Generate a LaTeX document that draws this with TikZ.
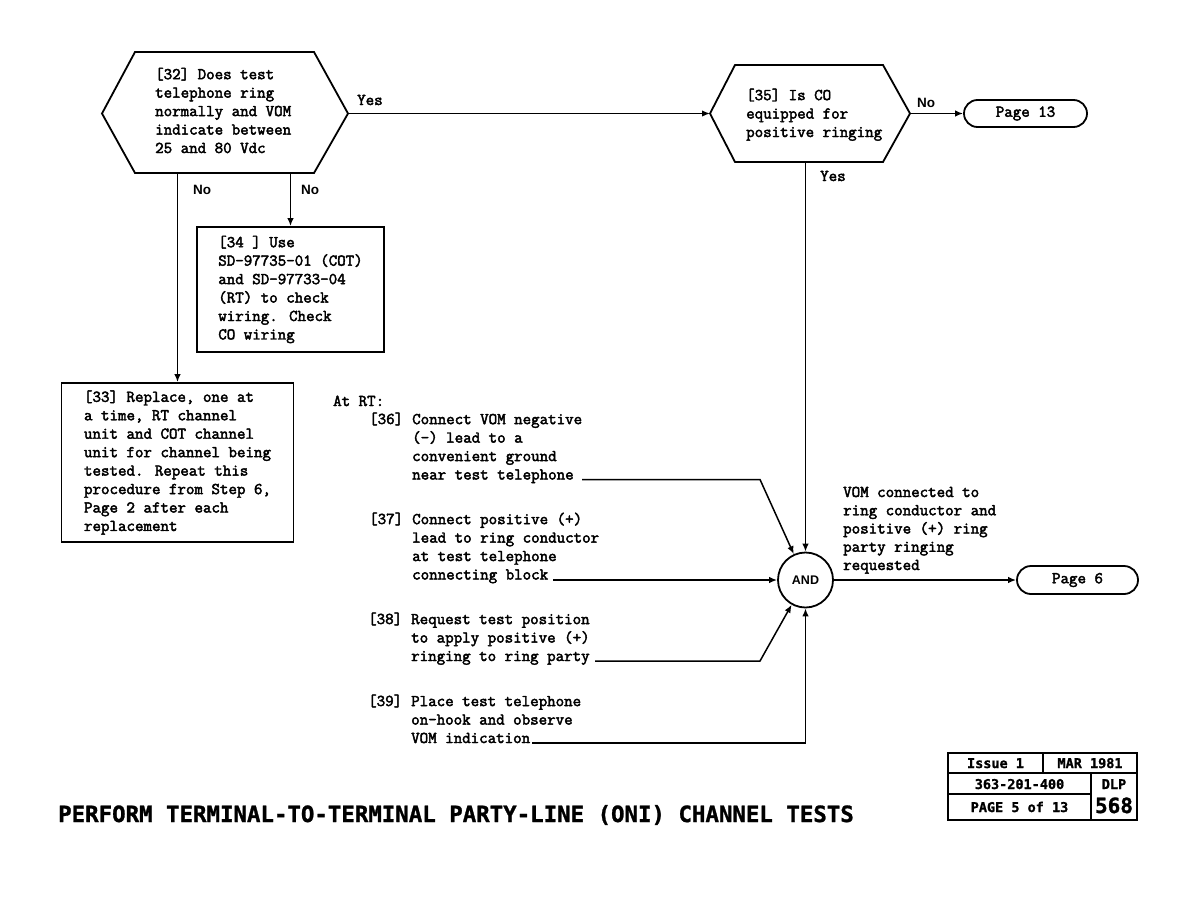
\documentclass[tikz,border=0pt]{standalone}
\usepackage{fontspec}
\usetikzlibrary{arrows.meta,shapes.misc}
\newfontfamily\bodyfont{Latin Modern Mono}[FakeBold=2.6]
\newfontfamily\labfont{Liberation Sans}
\newfontfamily\headfont{DejaVu Sans Mono}[BoldFeatures={FakeBold=1.2}]
\tikzset{
  txt/.style={font=\bodyfont\fontsize{16.5}{18.45}\selectfont, align=left, anchor=base west, inner sep=0pt},
  lab/.style={font=\labfont\bfseries\fontsize{13.5}{16}\selectfont, anchor=base west, inner sep=0pt},
  edge/.style={line width=1.5pt},
  arr/.style={edge, -{Latex[length=8pt,width=6.5pt]}},
  hexa/.style={draw, line width=1.8pt, line join=miter},
  stepbox/.style={draw, line width=1.8pt, font=\bodyfont\fontsize{16.5}{18.45}\selectfont, align=left, inner sep=0pt},
  term/.style={draw, rounded rectangle, line width=1.8pt, font=\bodyfont\fontsize{16.5}{18}\selectfont, inner sep=0pt},
  gate/.style={draw, circle, line width=1.8pt, minimum size=55pt, inner sep=0pt, font=\labfont\bfseries\fontsize{12.5}{14}\selectfont},
  foot/.style={font=\headfont\bfseries\fontsize{13.5}{16}\selectfont, anchor=base, inner sep=0pt},
  tbl/.style={line width=1.6pt},
}
\begin{document}
\begin{tikzpicture}[x=1pt,y=-1pt]
\useasboundingbox[fill=white] (0,0) rectangle (1188,918);

% decision 32
\coordinate (h32l) at (102,113.5);
\coordinate (h32tl) at (135,52);
\coordinate (h32tr) at (314,52);
\coordinate (h32r) at (348,113.5);
\coordinate (h32br) at (314,173);
\coordinate (h32bl) at (135,173);
\draw[hexa] (h32l) -- (h32tl) -- (h32tr) -- (h32r) -- (h32br) -- (h32bl) -- cycle;
\node[txt] (t32) at (155,153) {[32] Does test\\telephone ring\\normally and VOM\\indicate between\\25 and 80 Vdc};
\coordinate (h32n1) at (177.5,173);
\coordinate (h32n2) at (290.5,173);

% decision 35
\coordinate (h35l) at (710,113.5);
\coordinate (h35tl) at (735,65);
\coordinate (h35tr) at (883,65);
\coordinate (h35r) at (910,113.5);
\coordinate (h35br) at (883,162);
\coordinate (h35bl) at (735,162);
\draw[hexa] (h35l) -- (h35tl) -- (h35tr) -- (h35r) -- (h35br) -- (h35bl) -- cycle;
\node[txt] (t35) at (746,137) {[35] Is CO\\equipped for\\positive ringing};
\coordinate (h35s) at (805.5,162);

% terminals
\node[term, minimum width=123pt, minimum height=27pt] (p13) at (1025.5,113.5) {Page 13};
\node[term, minimum width=121pt, minimum height=28pt] (p6) at (1077.5,580) {Page 6};

% boxes
\node[stepbox, minimum width=187pt, minimum height=125pt] (b34) at (290.5,289.5)
  {[34 ] Use\\SD-97735-01 (COT)\\and SD-97733-04\\(RT) to check\\wiring. Check\\CO wiring};
\node[stepbox, minimum width=232pt, minimum height=159pt] (b33) at (177.5,462.5)
  {[33] Replace, one at\\a time, RT channel\\unit and COT channel\\unit for channel being\\tested. Repeat this\\procedure from Step 6,\\Page 2 after each\\replacement};

% AND gate
\node[gate] (and) at (805.5,580) {AND};

% labels
\node[txt] (yes1) at (357,105) {Yes};
\node[lab] (no1) at (193,194) {No};
\node[lab] (no2) at (301,194) {No};
\node[lab] (no3) at (917,107) {No};
\node[txt] (yes2) at (820,181) {Yes};

% steps at RT
\node[txt] (atrt) at (333,406) {At RT:};
\node[txt] (n36) at (369,424) {[36]};
\node[txt] (s36) at (412,479.5) {Connect VOM negative\\(-) lead to a\\convenient ground\\near test telephone};
\node[txt] (n37) at (369,524) {[37]};
\node[txt] (s37) at (412,579.5) {Connect positive (+)\\lead to ring conductor\\at test telephone\\connecting block};
\node[txt] (n38) at (368,624) {[38]};
\node[txt] (s38) at (411,661) {Request test position\\to apply positive (+)\\ringing to ring party};
\node[txt] (n39) at (368,706) {[39]};
\node[txt] (s39) at (411,743) {Place test telephone\\on-hook and observe\\VOM indication};
\node[txt, font=\bodyfont\fontsize{16.5}{18.25}\selectfont] (vom) at (843,570) {VOM connected to\\ring conductor and\\positive (+) ring\\party ringing\\requested};

\coordinate (c36) at (582,479.5);
\coordinate (c36k) at (760,479.5);
\coordinate (c37) at (553,580);
\coordinate (c38) at (595,661);
\coordinate (c38k) at (760,661);
\coordinate (c39) at (532,743);

% connectors
\draw[arr] (h32r) -- (h35l);
\draw[arr] (h32n1) -- (h32n1 |- b33.north);
\draw[arr] (h32n2) -- (h32n2 |- b34.north);
\draw[arr] (h35r) -- (p13.west);
\draw[arr] (h35s) -- (and);
\draw[arr] (c36) -- (c36k) -- (and);
\draw[arr] (c37) -- (and);
\draw[arr] (c38) -- (c38k) -- (and);
\draw[arr] (c39) -| (and);
\draw[arr] (and) -- (p6);

% footer table
\draw[tbl] (948,753) rectangle (1137,820);
\draw[tbl] (948,773) -- (1137,773);
\draw[tbl] (1043,753) -- (1043,773);
\draw[tbl] (1091,773) -- (1091,820);
\draw[tbl] (948,794) -- (1091,794);
\node[foot] (iss) at (995.5,768) {Issue 1};
\node[foot] (mar) at (1090,768) {MAR 1981};
\node[foot] (num) at (1019.5,789) {363-201-400};
\node[foot] (dlp) at (1114,789) {DLP};
\node[foot] (pg) at (1019.5,812) {PAGE 5 of 13};
\node[foot, font=\headfont\bfseries\fontsize{21}{24}\selectfont] (dlpn) at (1114,813) {568};

% title
\node[font=\headfont\bfseries\fontsize{22.4}{24}\selectfont, anchor=base west, inner sep=0pt] (title) at (58,822) {PERFORM TERMINAL-TO-TERMINAL PARTY-LINE (ONI) CHANNEL TESTS};
\end{tikzpicture}
\end{document}
